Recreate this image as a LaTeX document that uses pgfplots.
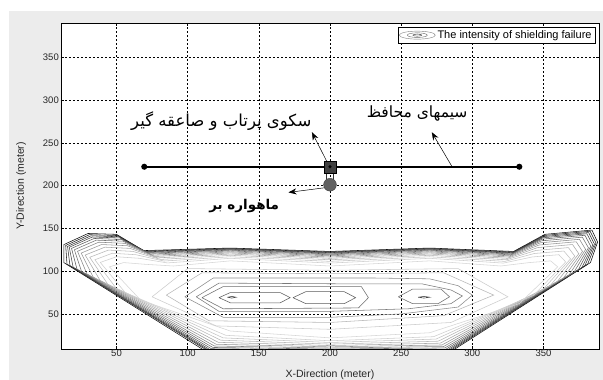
\documentclass[border=0pt]{standalone}
\usepackage{fontspec}
\setmainfont{Liberation Sans}
\newfontfamily\arabicfont[Script=Arabic]{DejaVu Sans}
\TeXXeTstate=1
\usepackage{pgfplots}
\pgfplotsset{compat=1.18}
\usetikzlibrary{arrows.meta}
\definecolor{figbg}{RGB}{236,236,236}
\begin{document}
\begin{tikzpicture}
\path[use as bounding box] (-61pt,-31pt) rectangle (542pt,349pt);
\fill[figbg] (-52pt,-31pt) rectangle (542pt,338pt);
\begin{axis}[
  at={(0pt,0pt)}, anchor=south west,
  scale only axis, width=538pt, height=326pt,
  xmin=11, xmax=389, ymin=9, ymax=390,
  xtick={50,100,...,350}, ytick={50,100,...,350},
  grid=major,
  grid style={black, line width=0.4pt, dash pattern=on 2pt off 2pt},
  axis background/.style={fill=white},
  axis line style={black, line width=0.6pt},
  tick align=inside, major tick length=3pt,
  tick style={black, line width=0.5pt},
  /pgf/number format/assume math mode=true,
  tick label style={font=\fontsize{9.5}{11}\selectfont, black!85},
  xticklabel style={inner sep=1pt},
  yticklabel style={inner sep=2pt},
  xlabel={X-Direction (meter)}, ylabel={Y-Direction (meter)},
  label style={font=\fontsize{10.5}{12}\selectfont, black!85},
  xlabel style={at={(axis description cs:0.5,-0.08)}, anchor=center},
  ylabel style={at={(axis description cs:-0.074,0.5)}, anchor=center},
  legend style={at={(1,1)}, anchor=north east, xshift=-4pt, yshift=-4pt,
    draw=black, fill=white, font=\fontsize{11}{13}\selectfont, inner sep=1.2pt},
  legend cell align=left,
]
\addlegendimage{legend image code/.code={
  \draw[black!50] (18pt,0pt) ellipse [x radius=18pt, y radius=4pt];
  \draw[black!60] (18pt,0pt) ellipse [x radius=10pt, y radius=2.3pt];
  \draw[black!80] (18pt,0pt) ellipse [x radius=4.5pt, y radius=1pt];}}
\addlegendentry{The intensity of shielding failure}

% contour rings (outer to inner)
\addplot[forget plot, black!95, line width=0.55pt] coordinates {(114,5) (13,110) (13,131) (30,144) (50,143) (69,124) (130,127) (200,123) (270,127) (329,123) (351,143) (384,148) (388,134) (383,110) (284,5) (200,5) (114,5)};
\addplot[forget plot, black!87, line width=0.55pt] coordinates {(115,6) (15.2,108.2) (14.3,130) (31,142.6) (50.8,141.6) (69.8,123.3) (130,126.4) (200,122.3) (270,126.4) (328.6,122.3) (350.6,141.7) (382.8,146.6) (386.9,132.8) (381,108.1) (283.4,5.9) (200,5.7) (115,6)};
\addplot[forget plot, black!80, line width=0.55pt] coordinates {(115.3,7) (17.3,106.5) (15.6,128.9) (32,141.3) (51.6,140.2) (70.7,122.6) (130,125.8) (200,121.6) (270,125.8) (328.3,121.6) (350.1,140.4) (381.7,145.1) (385.8,131.7) (379,106.2) (282.9,6.8) (200,6.4) (115.3,7)};
\addplot[forget plot, black!72, line width=0.55pt] coordinates {(115.9,8) (19.5,104.7) (16.8,127.9) (33,139.9) (52.4,138.8) (71.5,121.8) (130,125.2) (200,121) (270,125.2) (327.9,121) (349.7,139) (380.5,143.7) (384.6,130.5) (377,104.2) (282.3,7.8) (200,7) (115.9,8)};
\addplot[forget plot, black!64, line width=0.55pt] coordinates {(116.7,9.3) (22.2,102.5) (18.4,126.6) (34.3,138.2) (53.4,137) (72.6,120.9) (130,124.5) (200,120.1) (270,124.5) (327.5,120.1) (349.1,137.4) (379.1,141.9) (383.2,129.1) (374.5,101.8) (281.6,8.9) (200,7.9) (116.7,9.3)};
\addplot[forget plot, black!56, line width=0.55pt] coordinates {(117.7,10.8) (25.4,99.9) (20.4,125) (35.8,136.2) (54.6,135) (73.8,119.9) (130,123.6) (200,119.1) (270,123.6) (326.9,119.1) (348.5,135.4) (377.3,139.7) (381.6,127.3) (371.5,99) (280.8,10.3) (200,8.9) (117.7,10.8)};
\addplot[forget plot, black!48, line width=0.55pt] coordinates {(118.8,12.5) (29.2,96.8) (22.6,123.2) (37.5,133.8) (56,132.5) (75.3,118.6) (130,122.5) (200,117.9) (270,122.5) (326.3,117.9) (347.7,133.1) (375.3,137.2) (379.6,125.3) (368,95.6) (279.8,11.9) (200,10.1) (118.8,12.5)};
\addplot[forget plot, black!41, line width=0.55pt] coordinates {(120.1,14.5) (33.5,93.3) (25.2,121.1) (39.5,131.1) (57.6,129.7) (77,117.2) (130,121.3) (200,116.5) (270,121.3) (325.6,116.5) (346.8,130.5) (373,134.3) (377.4,123) (364,91.8) (278.7,13.7) (200,11.5) (120.1,14.5)};
\addplot[forget plot, black!34, line width=0.55pt] coordinates {(121.5,16.8) (38.4,89.3) (28,118.8) (41.8,128) (59.4,126.6) (78.9,115.5) (130,120) (200,115) (270,120) (324.8,115) (345.8,127.5) (370.4,131.1) (374.8,120.4) (359.5,87.4) (277.4,15.8) (200,13) (121.5,16.8)};
\addplot[forget plot, black!28, line width=0.55pt] coordinates {(123.1,19.3) (43.8,84.9) (31.2,116.2) (44.3,124.6) (61.4,123.1) (81,113.7) (130,118.5) (200,113.3) (270,118.5) (323.9,113.3) (344.7,124.2) (367.5,127.5) (372,117.5) (354.5,82.6) (276,18.1) (200,14.7) (123.1,19.3)};
\addplot[forget plot, black!23, line width=0.55pt] coordinates {(124.9,22) (49.7,80.1) (34.8,113.3) (47,120.9) (63.6,119.2) (83.3,111.8) (130,116.8) (200,111.4) (270,116.8) (322.9,111.4) (343.5,120.6) (364.3,123.5) (369,114.3) (349,77.4) (274.5,20.6) (200,16.6) (124.9,22)};
\addplot[forget plot, black!19, line width=0.55pt] coordinates {(126.8,25) (56.2,74.8) (38.6,110.2) (50,116.8) (66,115) (85.8,109.6) (130,115) (200,109.4) (270,115) (321.8,109.4) (342.2,116.6) (360.8,119.2) (365.6,110.8) (343,71.6) (272.8,23.4) (200,18.6) (126.8,25)};
\addplot[forget plot, black!16, line width=0.55pt] coordinates {(130,30) (67,66) (45,105) (55,110) (70,108) (90,106) (130,112) (200,106) (270,112) (320,106) (340,110) (355,112) (360,105) (333,62) (270,28) (200,22) (130,30)};
% inner rings around the peaks
\addplot[forget plot, black!20, line width=0.55pt] coordinates {(75,70) (100,103) (200,101) (290,103) (325,70) (285,40) (200,32) (120,36) (75,70)};
\addplot[forget plot, black!28, line width=0.55pt] coordinates {(85,72) (110,98) (200,97) (280,98) (315,72) (280,48) (200,40) (115,42) (85,72)};
\addplot[forget plot, black!45, line width=0.55pt] coordinates {(98,70) (118,92) (230,92) (270,91) (290,83) (300,72) (290,58) (250,50) (200,46) (125,46) (98,70)};
\addplot[forget plot, black!52, line width=0.55pt] coordinates {(106,70) (122,86) (228,85) (265,85) (285,78) (293,71) (285,62) (255,56) (200,53) (122,53) (106,70)};
\addplot[forget plot, black!57, line width=0.55pt] coordinates {(110,69) (125,82) (222,82) (227,69) (220,57) (125,56) (110,69)};
\addplot[forget plot, black!57, line width=0.55pt] coordinates {(248,70) (258,79) (278,79) (284,70) (276,62) (258,62) (248,70)};
\addplot[forget plot, black!64, line width=0.55pt] coordinates {(122,69) (130,75) (165,75) (172,69) (165,63) (130,63) (122,69)};
\addplot[forget plot, black!64, line width=0.55pt] coordinates {(174,69) (183,76) (210,76) (218,69) (210,62) (183,62) (174,69)};
\addplot[forget plot, black!72, line width=0.55pt] coordinates {(128,69.5) (131,70.5) (134,69.5) (131,68.5) (128,69.5)};
\addplot[forget plot, black!72, line width=0.55pt] coordinates {(262,69.5) (266,70.5) (270,69.5) (266,68.5) (262,69.5)};

% shield wire
\addplot[forget plot, black, line width=1.6pt, mark=*, mark size=2.2pt] coordinates {(69.5,222) (333,222)};
% connectors
\addplot[forget plot, black!80, line width=0.5pt] coordinates {(197.6,216) (197.6,206)};
\addplot[forget plot, black!80, line width=0.5pt] coordinates {(202.2,216) (202.2,206)};
% satellite carrier (circle) and platform (square)
\addplot[forget plot, only marks, mark=*, mark size=6.4pt, mark options={fill=black!62, draw=black!75}] coordinates {(200,201)};
\addplot[forget plot, only marks, mark=square*, mark size=6pt, mark options={fill=black!75, draw=black}] coordinates {(200,222)};
\addplot[forget plot, only marks, mark=*, mark size=1.4pt, mark options={fill=black, draw=black}] coordinates {(200,222)};

% annotations
\draw[-{Stealth[length=8pt,width=6pt]}, black, line width=0.5pt] (axis cs:198.9,224.5) -- (axis cs:187.3,262.4);
\draw[-{Stealth[length=8pt,width=6pt]}, black, line width=0.5pt] (axis cs:285.6,222.5) -- (axis cs:271.5,262.4);
\draw[-{Stealth[length=8pt,width=6pt]}, black, line width=0.5pt] (axis cs:198.9,198) -- (axis cs:170.8,192);
\node[font=\fontsize{16.5}{18}\selectfont] at (axis cs:123.6,275) {\arabicfont\beginR سکوی پرتاب و صاعقه گیر\endR};
\node[font=\fontsize{15.5}{17}\selectfont] at (axis cs:261.2,284.4) {\arabicfont\beginR سیمهای محافظ\endR};
\node[font=\fontsize{13.5}{15}\selectfont] at (axis cs:139.7,176.4) {\arabicfont\bfseries\beginR ماهواره بر\endR};
\end{axis}
\end{tikzpicture}
\end{document}
